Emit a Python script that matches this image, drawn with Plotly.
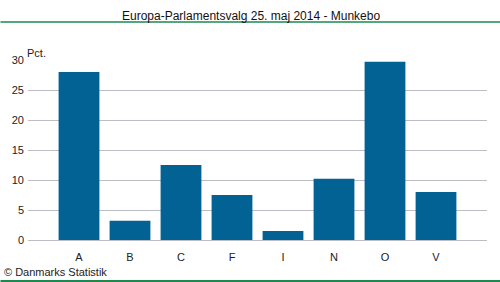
import plotly.graph_objects as go

categories = ["A", "B", "C", "F", "I", "N", "O", "V"]
values = [28.0, 3.2, 12.5, 7.5, 1.5, 10.2, 29.7, 8.0]
y_ticks = [0, 5, 10, 15, 20, 25, 30]

fig = go.Figure()
fig.add_trace(go.Bar(
    x=list(range(len(categories))), y=values,
    marker=dict(color="#026294", line=dict(width=0)),
    width=0.8,
    hoverinfo="skip",
))

FONT = "Liberation Sans, Arial, sans-serif"
fig.update_layout(
    width=500, height=282,
    margin=dict(l=26, r=13, t=60, b=42),
    paper_bgcolor="white", plot_bgcolor="white",
    showlegend=False,
    font=dict(family=FONT, size=11, color="#222222"),
    xaxis=dict(
        range=[-1, 8],
        tickmode="array",
        tickvals=list(range(len(categories))),
        ticktext=categories,
        showgrid=False, zeroline=False,
        showline=False,
        ticks="", ticklen=0,
        ticklabelstandoff=9,
        tickfont=dict(size=11, family=FONT, color="#222222"),
        fixedrange=True,
    ),
    yaxis=dict(
        range=[0, 30],
        tickmode="array",
        tickvals=y_ticks,
        ticktext=[str(v) for v in y_ticks],
        showgrid=True, gridcolor="#bdbdc6", gridwidth=1,
        zeroline=True, zerolinecolor="#bdbdc6", zerolinewidth=1,
        showline=False, ticks="", ticklen=0,
        ticklabelstandoff=3,
        tickfont=dict(size=11, family=FONT, color="#222222"),
        fixedrange=True,
    ),
    shapes=[
        dict(type="line", xref="paper", yref="paper", x0=-0.06, x1=1.04,
             y0=1 + 38 / 180, y1=1 + 38 / 180,
             line=dict(color="#1b8a4c", width=1.5)),
        dict(type="line", xref="paper", yref="paper", x0=-0.06, x1=1.04,
             y0=-41 / 180, y1=-41 / 180,
             line=dict(color="#1b8a4c", width=2)),
    ],
    annotations=[
        dict(text="Europa-Parlamentsvalg 25. maj 2014 - Munkebo",
             xref="paper", yref="paper", x=(250 - 26) / 461, y=1 + 44 / 180,
             xanchor="center", yanchor="middle", showarrow=False,
             font=dict(size=12, family=FONT, color="#111111")),
        dict(text="Pct.", xref="paper", yref="paper", x=-3 / 461, y=1 + 7 / 180,
             xanchor="left", yanchor="middle", showarrow=False,
             font=dict(size=11, family=FONT, color="#222222")),
        dict(text="© Danmarks Statistik", xref="paper", yref="paper",
             x=-26 / 461, y=-32 / 180,
             xanchor="left", yanchor="middle", showarrow=False,
             font=dict(size=11, family=FONT, color="#222222")),
    ],
)

fig.write_html("out.html")
